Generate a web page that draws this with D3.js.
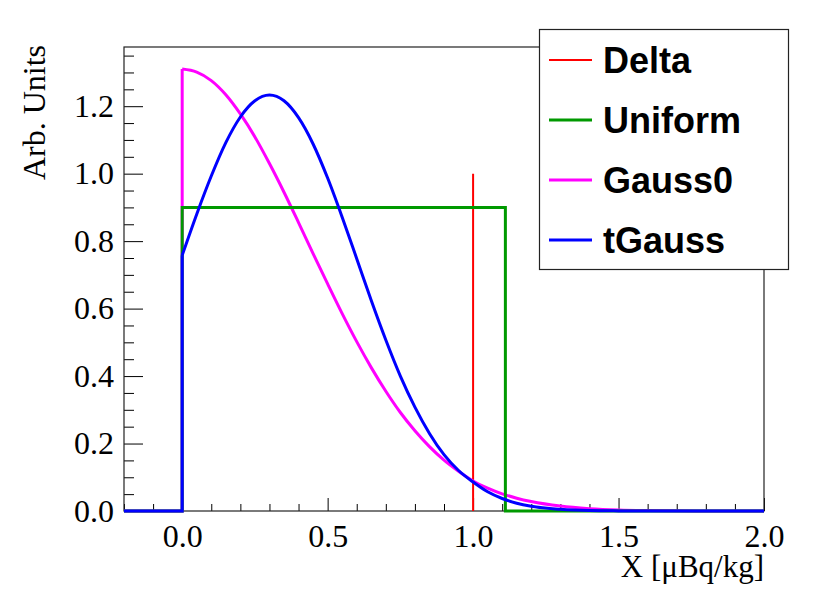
<!DOCTYPE html>
<html>
<head>
<meta charset="utf-8">
<script src="https://cdn.jsdelivr.net/npm/d3@7"></script>
<style>
  body { margin: 0; background: #fff; }
  .tick text { font-family: "Liberation Serif", "Times New Roman", serif; font-size: 32px; fill: #000; }
  .tick line { stroke: #000; }
</style>
</head>
<body>
<div id="chart"></div>
<script>
// Define svg size
var svgWidth = 830;
var svgHeight = 602;

// frame edges (pixels)
var frame = { left: 124, right: 764, top: 47, bottom: 511 };

// x samples for the smooth curves
var curveX = [0, 0.05, 0.1, 0.15, 0.2, 0.25, 0.3, 0.35, 0.4, 0.45, 0.5, 0.55, 0.6, 0.65,
  0.7, 0.75, 0.8, 0.85, 0.9, 0.95, 1.0, 1.05, 1.1, 1.15, 1.2, 1.3, 1.4, 1.5, 1.6, 1.7, 1.8, 2.0];

// Gauss0 values
var gauss0Y = [1.310, 1.301, 1.276, 1.234, 1.177, 1.109, 1.030, 0.945, 0.855, 0.763, 0.673, 0.585,
  0.502, 0.425, 0.355, 0.292, 0.238, 0.191, 0.151, 0.118, 0.089, 0.068, 0.051, 0.038, 0.028,
  0.0145, 0.007, 0.003, 0.0013, 0.0005, 0.0002, 0];

// tGauss values
var tGaussY = [0.758, 0.880, 0.993, 1.092, 1.168, 1.216, 1.233, 1.216, 1.166, 1.088, 0.987, 0.871,
  0.748, 0.624, 0.507, 0.400, 0.308, 0.230, 0.167, 0.120, 0.086, 0.057, 0.037, 0.023, 0.014,
  0.005, 0.0012, 0.0003, 0, 0, 0, 0];

// Uniform step
var uniformX = [-0.2, 0, 0, 1.111, 1.111, 2.0];
var uniformY = [0, 0, 0.9, 0.9, 0, 0];

// Delta spike
var deltaX = [1.0, 1.0];
var deltaY = [0, 1.0];

// flat part before x = 0 (the curves jump up at x = 0)
var leadX = [-0.2, 0];
var leadY = [0, 0];

// axis ticks
var xMajor = [0, 0.5, 1.0, 1.5, 2.0];
var xMinor = [-0.2, -0.1, 0.1, 0.2, 0.3, 0.4, 0.6, 0.7, 0.8, 0.9, 1.1, 1.2, 1.3, 1.4, 1.6, 1.7, 1.8, 1.9];
var yMajor = [0, 0.2, 0.4, 0.6, 0.8, 1.0, 1.2];
var yMinor = [0.05, 0.1, 0.15, 0.25, 0.3, 0.35, 0.45, 0.5, 0.55, 0.65, 0.7, 0.75, 0.85, 0.9, 0.95,
  1.05, 1.1, 1.15, 1.25, 1.3, 1.35];

var legendNames = ["Delta", "Uniform", "Gauss0", "tGauss"];
var legendColors = ["#ff0000", "#009900", "#ff00ff", "#0000ff"];

var svg = d3.select("#chart")
  .append("svg")
  .attr("width", svgWidth)
  .attr("height", svgHeight);

// scales
var xScale = d3.scaleLinear()
  .domain([-0.2, 2.0])
  .range([frame.left, frame.right]);

var yScale = d3.scaleLinear()
  .domain([0, 1.3755])
  .range([frame.bottom, frame.top]);

function zipPts(xs, ys) {
  return xs.map(function(d, i) { return [d, ys[i]]; });
}

var line = d3.line()
  .x(d => xScale(d[0]))
  .y(d => yScale(d[1]));

var smooth = d3.line()
  .x(d => xScale(d[0]))
  .y(d => yScale(d[1]))
  .curve(d3.curveMonotoneX);

// x axis (minor then major)
svg.append("g")
  .attr("transform", `translate(0, ${frame.bottom})`)
  .call(d3.axisBottom(xScale).tickValues(xMinor).tickSize(-7).tickSizeOuter(0).tickFormat(""))
  .call(g => g.select(".domain").remove());

svg.append("g")
  .attr("transform", `translate(0, ${frame.bottom})`)
  .call(d3.axisBottom(xScale).tickValues(xMajor).tickSize(-13).tickSizeOuter(0)
    .tickPadding(13).tickFormat(d3.format(".1f")))
  .call(g => g.select(".domain").remove());

// y axis (minor then major)
svg.append("g")
  .attr("transform", `translate(${frame.left}, 0)`)
  .call(d3.axisLeft(yScale).tickValues(yMinor).tickSize(-10).tickSizeOuter(0).tickFormat(""))
  .call(g => g.select(".domain").remove());

svg.append("g")
  .attr("transform", `translate(${frame.left}, 0)`)
  .call(d3.axisLeft(yScale).tickValues(yMajor).tickSize(-19).tickSizeOuter(0)
    .tickPadding(10).tickFormat(d3.format(".1f")))
  .call(g => g.select(".domain").remove());

// frame
svg.append("rect")
  .attr("x", frame.left)
  .attr("y", frame.top)
  .attr("width", frame.right - frame.left)
  .attr("height", frame.bottom - frame.top)
  .attr("fill", "none")
  .attr("stroke", "#222")
  .attr("stroke-width", 1.2);

// draw one curve: straight lead-in + jump, then the smooth part
function drawCurve(ys, color) {
  var head = zipPts(leadX, leadY).concat([[curveX[0], ys[0]]]);
  svg.append("path")
    .datum(head)
    .attr("d", line)
    .attr("fill", "none")
    .attr("stroke", color)
    .attr("stroke-width", 3)
    .attr("stroke-linejoin", "miter");
  svg.append("path")
    .datum(zipPts(curveX, ys))
    .attr("d", smooth)
    .attr("fill", "none")
    .attr("stroke", color)
    .attr("stroke-width", 3);
}

// delta
svg.append("path")
  .datum(zipPts(deltaX, deltaY))
  .attr("d", line)
  .attr("fill", "none")
  .attr("stroke", legendColors[0])
  .attr("stroke-width", 2);

drawCurve(gauss0Y, legendColors[2]);

// uniform
svg.append("path")
  .datum(zipPts(uniformX, uniformY))
  .attr("d", line)
  .attr("fill", "none")
  .attr("stroke", legendColors[1])
  .attr("stroke-width", 3);

drawCurve(tGaussY, legendColors[3]);

// axis titles
svg.append("text")
  .attr("x", frame.right)
  .attr("y", 577)
  .attr("text-anchor", "end")
  .style("font-family", "'Liberation Serif', 'Times New Roman', serif")
  .style("font-size", "31px")
  .text("X [\u03bcBq/kg]");

svg.append("text")
  .attr("transform", "translate(45, 45) rotate(-90)")
  .attr("text-anchor", "end")
  .style("font-family", "'Liberation Serif', 'Times New Roman', serif")
  .style("font-size", "32px")
  .text("Arb. Units");

// legend
var legend = svg.append("g");

legend.append("rect")
  .attr("x", 539.5)
  .attr("y", 29.5)
  .attr("width", 249)
  .attr("height", 240)
  .attr("fill", "#fff")
  .attr("stroke", "#222")
  .attr("stroke-width", 1.2);

legendNames.forEach(function(name, i) {
  var ly = 60 + i * 60;
  legend.append("line")
    .attr("x1", 549)
    .attr("x2", 592)
    .attr("y1", ly)
    .attr("y2", ly)
    .attr("stroke", legendColors[i])
    .attr("stroke-width", i === 0 ? 2 : 3);
  legend.append("text")
    .attr("x", 603)
    .attr("y", ly + 12.5)
    .style("font-family", "'Liberation Sans', Arial, sans-serif")
    .style("font-weight", "bold")
    .style("font-size", "36px")
    .text(name);
});
</script>
</body>
</html>
